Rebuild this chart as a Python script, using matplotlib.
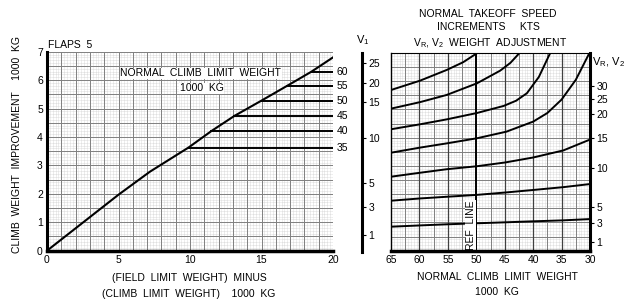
import numpy as np
import matplotlib
matplotlib.use("Agg")
import matplotlib.pyplot as plt

plt.rcParams['font.family'] = ['Liberation Sans', 'DejaVu Sans']
plt.rcParams['mathtext.default'] = 'regular'
FS = 7.5

# left chart: climb weight improvement line
imp_x = [0, 5, 7.2, 9.9, 11.5, 13.1, 15, 17, 18.5, 20]
imp_y = [0, 1.97, 2.78, 3.63, 4.21, 4.74, 5.28, 5.86, 6.30, 6.80]
# normal climb limit weight levels (1000 kg) and their y level
ncl_labels = [35, 40, 45, 50, 55, 60]
ncl_levels = [3.63, 4.21, 4.74, 5.28, 5.79, 6.30]

# right chart: speed increment curves, x = normal climb limit weight
curves = [
    ([65, 59.9, 55.2, 52.3, 49.9], [11.38, 12.04, 12.80, 13.35, 13.98]),
    ([65, 59.9, 55.2, 49.9, 45.8, 44.0, 42.4], [10.06, 10.52, 11.03, 11.85, 12.75, 13.3, 14.0]),
    ([65, 59.9, 55.2, 49.9, 45.2, 43.0, 41.1, 39.0, 37.0], [8.6, 8.95, 9.3, 9.75, 10.25, 10.62, 11.15, 12.3, 14.0]),
    ([65, 59.9, 55.2, 49.9, 44.7, 40.0, 37.5, 35.0, 32.5, 30.1],
     [6.94, 7.3, 7.6, 7.96, 8.43, 9.14, 9.75, 10.7, 12.1, 14.0]),
    ([65, 59.9, 55.2, 49.9, 44.9, 40.0, 34.7, 30], [5.24, 5.52, 5.77, 5.98, 6.25, 6.6, 7.1, 7.87]),
    ([65, 59.9, 55.2, 50, 44.9, 40, 34.7, 30], [3.54, 3.70, 3.82, 3.95, 4.12, 4.30, 4.50, 4.72]),
    ([65, 59.9, 55.2, 50, 44.9, 40, 34.7, 30], [1.70, 1.79, 1.87, 1.94, 2.01, 2.08, 2.15, 2.24]),
]

# speed scales (value, position on the 0-14 chart grid)
v1_vals = [1, 3, 5, 10, 15, 20, 25]
v1_pos = [1.18, 3.12, 4.82, 8.0, 10.55, 11.9, 13.31]
vr_vals = [1, 3, 5, 10, 15, 20, 25, 30]
vr_pos = [0.65, 1.95, 3.12, 5.88, 8.0, 9.66, 10.74, 11.66]

W, H = 626, 301
fig = plt.figure(figsize=(W / 100, H / 100), dpi=100)


def fx(px):
    return px / W


def fy(py):
    return 1 - py / H


def grid(ax, xs_major, xs_minor, ys_major, ys_minor, xs_dark=()):
    ax.vlines(xs_minor, *ax.get_ylim(), colors='#c4c4c4', lw=0.4, linestyles=(0, (1, 1)), zorder=1)
    ax.hlines(ys_minor, *ax.get_xlim(), colors='#c4c4c4', lw=0.4, linestyles=(0, (1, 1)), zorder=1)
    ax.vlines(xs_major, *ax.get_ylim(), colors='#808080', lw=0.7, zorder=2)
    ax.hlines(ys_major, *ax.get_xlim(), colors='#808080', lw=0.7, zorder=2)
    if len(xs_dark):
        ax.vlines(xs_dark, *ax.get_ylim(), colors='#404040', lw=0.9, zorder=2)


# ---- left chart
ax1 = fig.add_axes([fx(47), fy(250.7), fx(286), 199 / H])
ax1.set_xlim(0, 20)
ax1.set_ylim(0, 7)
grid(ax1, np.arange(0, 21, 1), np.arange(0, 20.01, 0.2), np.arange(0, 7.01, 0.5), np.arange(0, 7.01, 0.1))
ax1.plot(imp_x, imp_y, color='k', lw=1.5, zorder=4)
for lab, lvl in zip(ncl_labels, ncl_levels):
    x0 = np.interp(lvl, imp_y, imp_x)
    ax1.plot([x0, 20], [lvl, lvl], color='k', lw=1.4, zorder=4)
    ax1.text(20.25, lvl, str(lab), fontsize=FS, ha='left', va='center', clip_on=False)
ax1.text(10.75, 6.24, 'NORMAL  CLIMB  LIMIT  WEIGHT', fontsize=FS, ha='center', va='center', zorder=5,
         bbox=dict(fc='white', ec='none', pad=0.5))
ax1.text(10.8, 5.71, '1000  KG', fontsize=FS, ha='center', va='center', zorder=5,
         bbox=dict(fc='white', ec='none', pad=0.5))
ax1.set_xticks([0, 5, 10, 15, 20])
ax1.set_yticks(range(8))
ax1.tick_params(length=0, labelsize=FS, pad=3)
for s in ['top', 'right']:
    ax1.spines[s].set_visible(False)
ax1.spines['left'].set_linewidth(2.2)
ax1.spines['bottom'].set_linewidth(2.5)
ax1.spines['left'].set_zorder(6)
ax1.spines['bottom'].set_zorder(6)

fig.text(fx(48), fy(45), 'FLAPS  5', fontsize=FS, ha='left', va='center')
fig.text(fx(17), fy(145), 'CLIMB  WEIGHT  IMPROVEMENT    1000  KG', fontsize=FS, rotation=90,
         ha='center', va='center')
fig.text(fx(189), fy(278), '(FIELD  LIMIT  WEIGHT)  MINUS', fontsize=FS, ha='center', va='center')
fig.text(fx(189), fy(294), '(CLIMB  LIMIT  WEIGHT)    1000  KG', fontsize=FS, ha='center', va='center')

# ---- right chart
ax2 = fig.add_axes([fx(391), fy(250.7), fx(199), 197.7 / H])
ax2.set_xlim(65, 30)
ax2.set_ylim(0, 14)
grid(ax2, np.arange(30, 65.01, 2.5), np.arange(30, 65.01, 0.5), np.arange(0, 14.01, 1), np.arange(0, 14.01, 0.2),
     xs_dark=[60, 55, 45, 40, 35])
ax2.axvline(50, color='k', lw=1.4, zorder=4)
for cx, cy in curves:
    ax2.plot(cx, cy, color='k', lw=1.4, zorder=4)
ax2.text(51.0, 1.8, 'REF  LINE', fontsize=FS, rotation=90, ha='center', va='center', zorder=5,
         bbox=dict(fc='white', ec='none', pad=0.3))
ax2.set_xticks(range(65, 29, -5))
ax2.set_yticks([])
ax2.tick_params(length=0, labelsize=FS, pad=3)
ax2.spines['top'].set_linewidth(0.8)
ax2.spines['left'].set_linewidth(1.0)
ax2.spines['bottom'].set_linewidth(2.5)
ax2.spines['right'].set_linewidth(2.2)
for s in ax2.spines.values():
    s.set_zorder(6)

ax4 = ax2.twinx()
ax4.set_ylim(0, 14)
ax4.set_yticks(vr_pos)
ax4.set_yticklabels([str(v) for v in vr_vals])
ax4.tick_params(length=3, width=0.8, labelsize=FS, pad=1.5)
for s in ['top', 'left', 'bottom', 'right']:
    ax4.spines[s].set_visible(False)

# V1 scale
ax3 = fig.add_axes([fx(350), fy(251.7), fx(12), 198.4 / H])
ax3.set_ylim(0, 14)
ax3.set_xticks([])
ax3.yaxis.tick_right()
ax3.set_yticks(v1_pos)
ax3.set_yticklabels([str(v) for v in v1_vals])
ax3.tick_params(length=3, width=0.8, labelsize=FS, pad=1.5)
for s in ['top', 'left', 'bottom']:
    ax3.spines[s].set_visible(False)
ax3.spines['right'].set_linewidth(2.2)
ax3.patch.set_visible(False)

fig.text(fx(488), fy(14), 'NORMAL  TAKEOFF  SPEED', fontsize=FS, ha='center', va='center')
fig.text(fx(488), fy(27), 'INCREMENTS     KTS', fontsize=FS, ha='center', va='center')
fig.text(fx(490), fy(43), 'V$_R$, V$_2$  WEIGHT  ADJUSTMENT', fontsize=FS, ha='center', va='center')
fig.text(fx(356), fy(40), 'V$_1$', fontsize=FS + 0.5, ha='left', va='center')
fig.text(fx(592), fy(62), 'V$_R$, V$_2$', fontsize=FS + 0.5, ha='left', va='center')
fig.text(fx(497), fy(277), 'NORMAL  CLIMB  LIMIT  WEIGHT', fontsize=FS, ha='center', va='center')
fig.text(fx(497), fy(292), '1000  KG', fontsize=FS, ha='center', va='center')

fig.savefig('out.png', dpi=100)
